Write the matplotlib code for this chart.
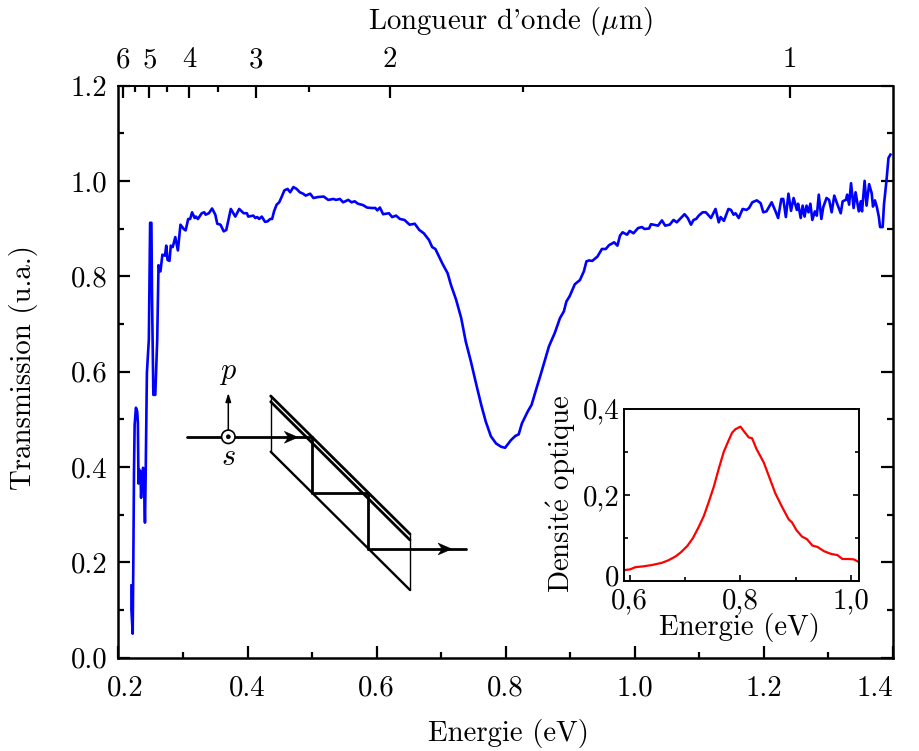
#!/usr/bin/env python
import numpy as np
import matplotlib
matplotlib.use('Agg')
import matplotlib.pyplot as plt
from matplotlib.lines import Line2D
from matplotlib.patches import Circle, Polygon
from matplotlib.ticker import MultipleLocator
from matplotlib.transforms import Affine2D

# transmission spectrum (main panel)
energy = [0.220,0.220,0.222,0.223,0.224,0.225,0.227,0.229,0.230,0.231,0.232,0.234,0.235,0.236,0.238,0.239,0.241,0.242,0.244,0.247,
          0.249,0.251,0.252,0.254,0.257,0.260,0.261,0.262,0.265,0.268,0.272,0.274,0.276,0.279,0.281,0.284,0.288,0.292,0.296,0.301,
          0.304,0.308,0.311,0.314,0.318,0.320,0.323,0.329,0.333,0.335,0.340,0.345,0.350,0.353,0.358,0.363,0.367,0.374,0.381,0.387,
          0.394,0.399,0.401,0.409,0.412,0.415,0.418,0.422,0.427,0.431,0.435,0.438,0.441,0.445,0.449,0.453,0.457,0.462,0.466,0.471,
          0.476,0.481,0.486,0.490,0.497,0.502,0.509,0.518,0.525,0.533,0.537,0.543,0.548,0.556,0.561,0.566,0.571,0.579,0.585,0.592,
          0.598,0.601,0.605,0.610,0.619,0.624,0.630,0.636,0.643,0.651,0.659,0.666,0.673,0.681,0.686,0.691,0.697,0.702,0.710,0.715,
          0.723,0.731,0.738,0.746,0.755,0.762,0.769,0.777,0.785,0.793,0.799,0.808,0.815,0.820,0.825,0.834,0.840,0.847,0.854,0.861,
          0.867,0.876,0.884,0.890,0.894,0.899,0.907,0.915,0.921,0.925,0.929,0.934,0.942,0.949,0.955,0.960,0.968,0.973,0.977,0.981,
          0.988,0.992,0.998,1.005,1.011,1.015,1.022,1.025,1.036,1.042,1.047,1.054,1.060,1.065,1.077,1.082,1.087,1.091,1.095,1.099,
          1.105,1.110,1.118,1.125,1.130,1.133,1.138,1.145,1.149,1.153,1.156,1.161,1.167,1.173,1.177,1.182,1.189,1.195,1.199,1.204,
          1.212,1.218,1.222,1.227,1.230,1.234,1.238,1.242,1.246,1.251,1.253,1.257,1.260,1.263,1.266,1.269,1.272,1.275,1.279,1.282,
          1.285,1.289,1.292,1.297,1.301,1.305,1.309,1.314,1.319,1.322,1.327,1.329,1.332,1.335,1.339,1.342,1.347,1.350,1.352,1.356,
          1.359,1.363,1.367,1.369,1.372,1.375,1.378,1.380,1.384,1.386,1.390,1.393,1.396]
trans = [0.151,0.101,0.050,0.205,0.388,0.488,0.524,0.516,0.493,0.365,0.394,0.390,0.335,0.373,0.398,0.394,0.283,0.373,0.597,0.667,
         0.912,0.912,0.751,0.551,0.551,0.667,0.751,0.823,0.810,0.845,0.843,0.864,0.834,0.832,0.864,0.861,0.882,0.854,0.908,0.899,
         0.896,0.920,0.920,0.934,0.922,0.925,0.920,0.932,0.934,0.929,0.932,0.942,0.929,0.910,0.908,0.894,0.897,0.941,0.925,0.941,
         0.932,0.932,0.925,0.927,0.922,0.924,0.920,0.925,0.914,0.915,0.920,0.920,0.936,0.950,0.955,0.967,0.980,0.983,0.976,0.987,
         0.983,0.976,0.973,0.969,0.973,0.964,0.966,0.967,0.960,0.962,0.960,0.962,0.955,0.960,0.955,0.957,0.952,0.949,0.944,0.943,
         0.943,0.938,0.944,0.930,0.932,0.924,0.927,0.920,0.918,0.908,0.910,0.897,0.890,0.876,0.861,0.857,0.840,0.826,0.806,0.782,
         0.751,0.712,0.663,0.621,0.569,0.530,0.495,0.464,0.449,0.442,0.440,0.456,0.465,0.468,0.491,0.516,0.530,0.562,0.593,0.625,
         0.653,0.681,0.712,0.726,0.747,0.758,0.783,0.792,0.810,0.831,0.833,0.832,0.841,0.857,0.857,0.865,0.871,0.864,0.885,0.892,
         0.887,0.895,0.890,0.901,0.903,0.899,0.900,0.909,0.906,0.917,0.906,0.908,0.918,0.913,0.930,0.922,0.908,0.918,0.920,0.927,
         0.934,0.934,0.922,0.941,0.913,0.924,0.916,0.941,0.939,0.929,0.932,0.922,0.941,0.939,0.943,0.955,0.959,0.953,0.934,0.936,
         0.955,0.936,0.922,0.962,0.962,0.924,0.973,0.937,0.964,0.939,0.952,0.922,0.948,0.925,0.948,0.934,0.952,0.918,0.936,0.927,
         0.971,0.920,0.945,0.964,0.960,0.934,0.969,0.950,0.932,0.957,0.960,0.971,0.950,0.995,0.943,0.976,0.936,0.957,0.936,1.000,
         0.948,0.993,0.974,0.946,0.959,0.945,0.925,0.903,0.903,0.950,1.002,1.048,1.055]

# optical density (inset)
energy_ins = [0.589,0.601,0.610,0.625,0.640,0.658,0.670,0.683,0.692,0.704,0.714,0.725,0.734,0.743,0.752,0.761,0.770,0.779,0.785,0.791,
              0.800,0.807,0.815,0.821,0.829,0.842,0.854,0.863,0.875,0.887,0.893,0.901,0.911,0.920,0.930,0.939,0.951,0.963,0.975,0.984,
              0.996,1.005,1.012]
dens_ins = [0.025,0.027,0.032,0.034,0.037,0.042,0.048,0.057,0.066,0.081,0.099,0.126,0.151,0.184,0.219,0.261,0.300,0.327,0.344,0.352,
            0.358,0.346,0.333,0.331,0.306,0.275,0.234,0.203,0.172,0.143,0.136,0.118,0.103,0.097,0.082,0.079,0.069,0.063,0.060,0.051,
            0.051,0.050,0.045]

xticks = [0.2, 0.4, 0.6, 0.8, 1.0, 1.2, 1.4]
yticks = [0.0, 0.2, 0.4, 0.6, 0.8, 1.0, 1.2]
wl_major = [6, 5, 4, 3, 2, 1]
wl_minor = [5.5, 4.5, 3.5, 2.5, 1.5]
hc = 1.2398

plt.rcParams['font.family'] = ['cmr10', 'DejaVu Serif']
plt.rcParams['mathtext.fontset'] = 'cm'
plt.rcParams['axes.formatter.use_mathtext'] = True
fs = 20.8
W, H = 919., 751.

fig = plt.figure(figsize=(9.19, 7.51), dpi=100)
# helper for the sketch and the placed labels, pixel coordinates of the picture
px = Affine2D().scale(1/W, -1/H).translate(0, 1) + fig.transFigure

def box(l, t, r, b):
    return [l/W, 1-b/H, (r-l)/W, (b-t)/H]

ax = fig.add_axes(box(118.5, 85.5, 893, 657.5))
ax.plot(energy, trans, color='#0000ff', lw=1.9, solid_joinstyle='round')
ax.set_xlim(0.2, 1.4)
ax.set_ylim(0, 1.2)
ax.set_xticks(xticks)
ax.set_yticks(yticks)
ax.set_xticklabels(['%.1f' % v for v in xticks], fontsize=fs)
ax.set_yticklabels(['%.1f' % v for v in yticks], fontsize=fs)
ax.xaxis.set_minor_locator(MultipleLocator(0.1))
ax.yaxis.set_minor_locator(MultipleLocator(0.1))
ax.tick_params(which='major', direction='in', length=8.5, width=1.6, top=False, right=True, labelsize=fs)
ax.tick_params(which='minor', direction='in', length=4.5, width=1.6, top=False, right=True)
ax.tick_params(axis='x', which='major', pad=13)
ax.tick_params(axis='y', which='major', pad=8)
for s in ['left', 'bottom', 'right']:
    ax.spines[s].set_linewidth(1.8)
ax.spines['top'].set_linewidth(1.4)

# shift the two end labels so they stay clear of the frame
lab = ax.get_xticklabels()
lab[0].set_transform(lab[0].get_transform() + Affine2D().translate(7, 0))
lab[-1].set_transform(lab[-1].get_transform() + Affine2D().translate(-18, 0))

top = ax.twiny()
top.set_xlim(ax.get_xlim())
top.set_xticks([hc/w for w in wl_major])
top.set_xticklabels([str(w) for w in wl_major], fontsize=fs)
top.set_xticks([hc/w for w in wl_minor], minor=True)
top.tick_params(which='major', direction='in', length=8.5, width=1.6, pad=9)
top.tick_params(which='minor', direction='in', length=4.5, width=1.6)
for s in top.spines.values():
    s.set_visible(False)

fig.text(508/W, 1-733/H, 'Energie (eV)', fontsize=fs, ha='center', va='center')
fig.text(24/W, 1-368/H, 'Transmission (u.a.)', fontsize=fs, ha='center', va='center', rotation=90)
fig.text(510/W, 1-22/H, "Longueur d'onde ($\\mu$m)", fontsize=fs, ha='center', va='center')

# sample sketch
sketch_lines = [
    ([270.7, 410], [396, 534], 2.0),
    ([270.7, 410], [401.7, 540], 2.0),
    ([270.7, 410], [451.7, 590], 1.7),
    ([270.7, 270.7], [396, 451.7], 1.0),
    ([410, 410], [534, 590], 1.0),
    ([186.7, 311.7], [437.3, 437.3], 2.0),
    ([311.7, 311.7], [437.3, 492.7], 2.0),
    ([311.7, 367.7], [492.7, 492.7], 2.0),
    ([367.7, 367.7], [492.7, 549], 2.0),
    ([367.7, 466], [549, 549], 2.0),
]
for xs, ys, lw in sketch_lines:
    fig.add_artist(Line2D(xs, ys, color='k', lw=lw, transform=px, solid_capstyle='round'))
for x0, y0 in [(284.3, 437.3), (438, 549)]:
    fig.add_artist(Polygon([(x0+14, y0), (x0, y0-6), (x0+4, y0), (x0, y0+6)], closed=True,
                           facecolor='k', edgecolor='k', lw=0.3, transform=px, zorder=5))
ax.annotate('', xy=(228.3/W, 1-393/H), xytext=(228.3/W, 1-431/H), xycoords='figure fraction',
            arrowprops=dict(arrowstyle='-|>,head_width=0.16,head_length=0.5', color='k', lw=1.1, shrinkA=0, shrinkB=0))
fig.add_artist(Circle((228.3, 436.8), 6.7, transform=px, facecolor='w', edgecolor='k', lw=1.2, zorder=5))
fig.add_artist(Circle((228.3, 436.8), 2.1, transform=px, facecolor='k', edgecolor='k', lw=0.3, zorder=6))
fig.text(228/W, 1-373/H, '$p$', fontsize=fs+1, ha='center', va='center')
fig.text(228/W, 1-457/H, '$s$', fontsize=fs+1, ha='center', va='center')

# inset
ins = fig.add_axes(box(623.5, 408.5, 858.5, 581))
ins.plot(energy_ins, dens_ins, color='#ff0000', lw=1.6)
ins.set_xlim(0.589, 1.013)
ins.set_ylim(0, 0.4)
ins.set_xticks([0.6, 0.8, 1.0])
ins.set_xticklabels(['0,6', '0,8', '1,0'], fontsize=fs)
ins.set_yticks([0, 0.2, 0.4])
ins.set_yticklabels(['0', '0,2', '0,4'], fontsize=fs)
ins.xaxis.set_minor_locator(MultipleLocator(0.1))
ins.yaxis.set_minor_locator(MultipleLocator(0.1))
ins.tick_params(which='major', direction='in', length=4.5, width=1.2, top=False, right=True)
ins.tick_params(which='minor', direction='in', length=2.8, width=1.2, top=False, right=True)
ins.tick_params(axis='x', which='major', pad=5)
ins.tick_params(axis='y', which='major', pad=3)
for s in ins.spines.values():
    s.set_linewidth(1.4)
# the zero sits a little above its tick
zero = ins.get_yticklabels()[0]
zero.set_transform(zero.get_transform() + Affine2D().translate(0, 6))
fig.text(739/W, 1-628/H, 'Energie (eV)', fontsize=fs, ha='center', va='center')
fig.text(561/W, 1-494/H, 'Densit$\\mathrm{\\acute{e}}$ optique', fontsize=fs, ha='center', va='center', rotation=90)

fig.savefig('out.png', dpi=100)
